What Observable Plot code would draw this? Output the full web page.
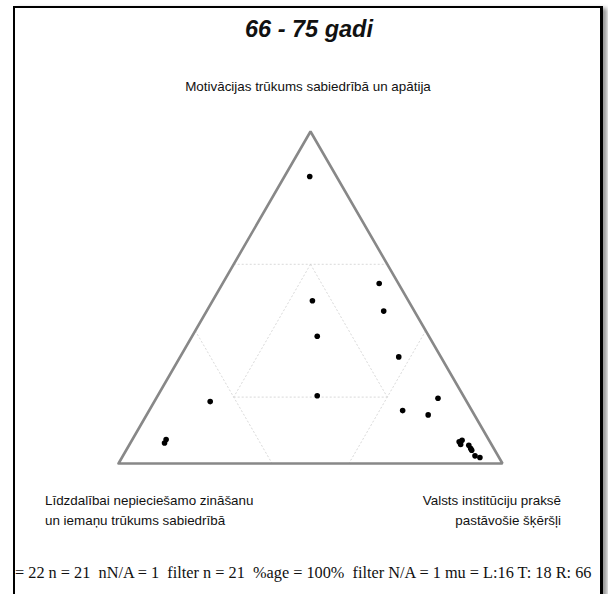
<!DOCTYPE html>
<html>
<head>
<meta charset="utf-8">
<script src="https://cdn.jsdelivr.net/npm/d3@7"></script>
<script src="https://cdn.jsdelivr.net/npm/@observablehq/plot@0.6"></script>
<style>
  html, body { margin: 0; padding: 0; background: #fff; overflow: hidden; }
  #page { position: relative; width: 608px; height: 594px; overflow: hidden; }
  #frame { position: absolute; left: 13px; top: 6px; width: 585px; height: 620px;
           border: 2px solid #000; border-right-width: 3px; box-shadow: 4px 2px 4px #999; background: #fff; }
  .t { position: absolute; font-family: "Liberation Sans", Arial, sans-serif; color: #111; white-space: pre; }
  #title { left: 0; width: 618px; top: 16px; text-align: center; font-size: 23.5px; font-weight: bold; font-style: italic; }
  #top { left: 0; width: 616px; top: 79px; text-align: center; font-size: 13.4px; }
  #bl { left: 45px; top: 491px; font-size: 13.4px; line-height: 20px; }
  #br { right: 47px; top: 491px; font-size: 13.4px; line-height: 20px; text-align: right; }
  #cap { left: 15px; top: 563px; font-family: "Liberation Serif", "Times New Roman", serif; font-size: 16.3px; }
  #chart { position: absolute; left: 0; top: 100px; }
</style>
</head>
<body>
<div id="page">
  <div id="frame"></div>
  <div id="chart"></div>
  <div class="t" id="title"></div>
  <div class="t" id="top"></div>
  <div class="t" id="bl"></div>
  <div class="t" id="br"></div>
  <div class="t" id="cap"></div>
</div>
<script>
// Texts
const titleText = "66 - 75 gadi";
const topLabel = "Motivācijas trūkums sabiedrībā un apātija";
const leftLabel = ["Līdzdalībai nepieciešamo zināšanu", "un iemaņu trūkums sabiedrībā"];
const rightLabel = ["Valsts institūciju praksē", "pastāvošie šķēršļi"];
const captionText = "= 22 n = 21  nN/A = 1  filter n = 21  %age = 100%  filter N/A = 1 mu = L:16 T: 18 R: 66";

// Ternary shares per respondent (L = bottom-left, T = top, R = bottom-right)
const valL = [0.07, 0.05, 0.25, 0.08, 0.29, 0.11, 0.67, 0.38, 0.07, 0.18, 0.12, 0.84, 0.85,
              0.08, 0.07, 0.08, 0.06, 0.06, 0.06, 0.06, 0.05];
const valT = [0.866, 0.541, 0.490, 0.460, 0.382, 0.322, 0.187, 0.204, 0.197, 0.159, 0.146, 0.072, 0.062,
              0.065, 0.070, 0.057, 0.055, 0.045, 0.040, 0.023, 0.018];
const valR = [0.066, 0.407, 0.260, 0.462, 0.325, 0.571, 0.146, 0.415, 0.736, 0.659, 0.731, 0.088, 0.089,
              0.852, 0.857, 0.859, 0.882, 0.891, 0.898, 0.915, 0.935];

// Region grid levels
const lowLevel = 0.2;
const highLevel = 0.6;

const S3 = Math.sqrt(3) / 2;
const toXY = ([l, t, r]) => {
  const s = l + t + r;
  return {x: (r + t / 2) / s, y: (t * S3) / s};
};

const points = valL.map((l, i) => toXY([l, valT[i], valR[i]]));

const hi = highLevel, lo = lowLevel;
const segs = [
  [[1 - hi, hi, 0], [0, hi, 1 - hi]],          // T = 0.6
  [[hi, 1 - hi, 0], [hi, 0, 1 - hi]],          // L = 0.6
  [[0, 1 - hi, hi], [1 - hi, 0, hi]],          // R = 0.6
  [[lo, hi, lo], [hi, lo, lo]],                // R = 0.2
  [[lo, hi, lo], [lo, lo, hi]],                // L = 0.2
  [[hi, lo, lo], [lo, lo, hi]]                 // T = 0.2
].map(([a, b]) => {
  const p = toXY(a), q = toXY(b);
  return {x1: p.x, y1: p.y, x2: q.x, y2: q.y};
});

const corners = [[1, 0, 0], [0, 1, 0], [0, 0, 1], [1, 0, 0]].map(toXY);

const chart = Plot.plot({
  width: 608,
  height: 380,
  marginLeft: 118,
  marginRight: 106,
  marginTop: 31,
  marginBottom: 17,
  x: {domain: [0, 1], axis: null},
  y: {domain: [0, S3], axis: null},
  marks: [
    Plot.link(segs, {x1: "x1", y1: "y1", x2: "x2", y2: "y2", stroke: "#cfcfcf", strokeWidth: 0.8, strokeDasharray: "2,2"}),
    Plot.line(corners, {x: "x", y: "y", stroke: "#888", strokeWidth: 2.6, strokeLinejoin: "miter"}),
    Plot.dot(points, {x: "x", y: "y", r: 2.8, fill: "#000", stroke: "none"})
  ]
});
document.getElementById("chart").appendChild(chart);

document.getElementById("title").textContent = titleText;
document.getElementById("top").textContent = topLabel;
document.getElementById("bl").textContent = leftLabel.join("\n");
document.getElementById("br").textContent = rightLabel.join("\n");
document.getElementById("cap").textContent = captionText;
</script>
</body>
</html>
